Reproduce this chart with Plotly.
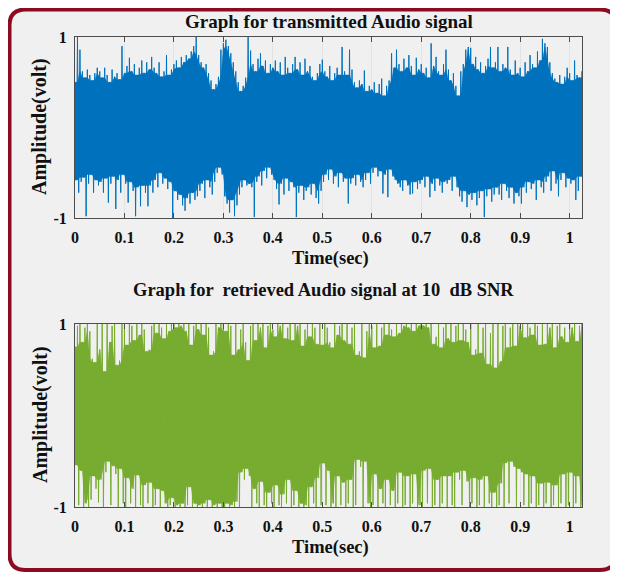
import plotly.graph_objects as go

# ---------------- data ----------------
time_step = 0.005  # s between successive envelope readings

# transmitted audio signal: positive / negative peak per 5 ms slot
tx_upper = [
    0.50, 1.00, 0.86, 0.62, 0.55, 0.64, 0.58, 0.52, 0.60, 0.66,
    0.62, 0.55, 0.66, 0.58, 0.50, 0.64, 0.56, 0.60, 0.53, 0.90,
    0.60, 0.68, 0.77, 0.62, 0.70, 0.58, 0.66, 0.74, 0.60, 0.72,
    0.64, 0.78, 0.66, 0.60, 0.72, 0.56, 0.62, 0.80, 0.58, 0.64,
    0.70, 0.74, 0.66, 0.78, 0.72, 0.80, 0.76, 0.84, 0.90, 1.00,
    0.80, 0.72, 0.66, 0.70, 0.60, 0.52, 0.42, 0.48, 0.56, 0.86,
    0.93, 0.97, 0.90, 0.82, 0.72, 0.62, 0.50, 0.40, 0.46, 0.55,
    1.00, 0.85, 0.70, 0.62, 0.76, 0.82, 0.68, 0.74, 0.60, 0.70,
    0.66, 0.74, 0.62, 0.72, 0.58, 0.78, 0.66, 0.60, 0.70, 0.78,
    0.64, 0.72, 0.58, 0.76, 0.62, 0.68, 0.56, 0.52, 0.60, 0.70,
    0.75, 0.62, 0.56, 0.68, 0.52, 0.60, 0.66, 0.58, 0.89, 0.62,
    0.58, 0.86, 0.64, 0.50, 0.44, 0.52, 0.48, 0.63, 0.40, 0.46,
    0.42, 0.50, 0.38, 0.48, 0.54, 0.35, 0.46, 0.52, 0.82, 0.66,
    0.86, 0.70, 0.62, 0.76, 0.66, 0.80, 0.68, 0.58, 0.77, 0.64,
    0.70, 0.60, 0.66, 0.55, 0.93, 0.68, 0.78, 0.62, 0.58, 0.70,
    0.86, 0.64, 0.52, 0.60, 0.46, 0.35, 0.62, 0.70, 0.86, 0.89,
    0.88, 0.70, 0.78, 0.64, 0.72, 0.60, 0.68, 0.76, 0.89, 0.66,
    0.72, 0.89, 0.62, 0.70, 0.66, 0.89, 0.64, 0.58, 0.74, 0.60,
    0.66, 0.56, 0.72, 0.62, 0.80, 0.70, 0.66, 0.84, 0.74, 0.98,
    0.93, 0.89, 0.72, 0.60, 0.54, 0.50, 0.58, 0.48, 0.56, 0.66,
    0.60, 0.52, 0.74, 0.58, 0.55, 0.62,
]
tx_lower = [
    -0.58, -0.72, -0.60, -0.55, -0.98, -0.62, -0.52, -0.72, -0.58, -0.64,
    -0.60, -0.72, -0.56, -0.83, -0.62, -0.54, -0.90, -0.58, -0.72, -0.52,
    -0.62, -0.83, -0.60, -0.70, -0.98, -0.66, -0.87, -0.64, -0.72, -0.87,
    -0.64, -0.72, -0.58, -0.66, -0.50, -0.62, -0.56, -0.68, -0.60, -1.00,
    -0.70, -0.80, -0.74, -0.86, -0.92, -0.78, -0.84, -0.72, -0.80, -0.76,
    -0.70, -0.62, -0.78, -0.58, -0.66, -0.74, -0.60, -0.50, -0.44, -0.52,
    -0.76, -0.84, -0.94, -0.80, -0.98, -0.86, -0.74, -0.66, -0.58, -0.64,
    -0.62, -0.66, -0.99, -0.60, -0.54, -0.64, -0.48, -0.56, -0.44, -0.52,
    -0.58, -0.68, -0.85, -0.62, -0.74, -0.56, -0.70, -0.60, -0.66, -0.99,
    -0.72, -0.64, -0.80, -0.70, -0.66, -0.74, -0.62, -0.78, -0.84, -0.70,
    -0.60, -0.52, -0.58, -0.46, -0.62, -0.54, -0.66, -0.50, -0.60, -0.56,
    -0.84, -0.62, -0.56, -0.64, -0.52, -0.60, -0.66, -0.58, -0.50, -0.62,
    -0.50, -0.44, -0.54, -0.48, -0.73, -0.52, -0.77, -0.46, -0.54, -0.58,
    -0.62, -0.66, -0.70, -0.58, -0.64, -0.74, -0.73, -0.60, -0.68, -0.62,
    -0.58, -0.66, -0.54, -0.77, -0.62, -0.70, -0.56, -0.64, -0.72, -0.60,
    -0.62, -0.58, -0.70, -0.54, -0.66, -0.76, -0.82, -0.70, -0.88, -0.74,
    -0.80, -0.72, -0.86, -0.78, -0.70, -0.99, -0.76, -0.68, -0.82, -0.74,
    -0.66, -0.74, -0.80, -0.62, -0.70, -0.78, -0.66, -0.84, -0.72, -0.76,
    -0.84, -0.66, -0.72, -0.60, -0.68, -0.62, -0.80, -0.58, -0.66, -0.72,
    -0.60, -0.54, -0.70, -0.48, -0.62, -0.76, -0.58, -0.50, -0.66, -0.56,
    -0.62, -0.58, -0.80, -0.70, -0.54, -0.60,
]

# retrieved audio signal at 10 dB SNR: positive / negative peak per 5 ms slot
rx_upper = [
    0.75, 0.98, 1.00, 0.80, 0.96, 1.00, 0.92, 0.62, 0.58, 1.00,
    0.72, 1.00, 0.48, 1.00, 0.80, 0.98, 1.00, 0.55, 0.60, 1.00,
    0.96, 0.77, 1.00, 0.98, 0.82, 1.00, 0.88, 1.00, 0.94, 0.70,
    0.72, 0.98, 1.00, 0.90, 1.00, 0.96, 0.84, 1.00, 0.92, 1.00,
    1.00, 0.96, 1.00, 0.98, 1.00, 0.92, 1.00, 0.77, 0.98, 1.00,
    0.94, 1.00, 0.88, 1.00, 0.96, 0.66, 0.70, 1.00, 0.96, 1.00,
    1.00, 0.92, 1.00, 0.98, 0.66, 1.00, 0.72, 0.94, 1.00, 0.80,
    0.60, 0.98, 1.00, 0.82, 1.00, 0.96, 1.00, 0.74, 0.98, 1.00,
    0.94, 0.86, 1.00, 0.98, 1.00, 0.84, 0.96, 1.00, 0.82, 1.00,
    0.98, 1.00, 0.76, 0.94, 1.00, 0.86, 1.00, 0.96, 0.78, 1.00,
    0.77, 1.00, 0.96, 0.80, 0.74, 1.00, 0.88, 0.98, 1.00, 0.82,
    1.00, 0.78, 0.96, 1.00, 0.66, 0.70, 1.00, 0.63, 0.92, 1.00,
    0.98, 0.74, 1.00, 0.76, 0.96, 1.00, 0.88, 1.00, 0.94, 0.86,
    1.00, 0.90, 1.00, 0.98, 1.00, 0.96, 1.00, 0.92, 1.00, 0.98,
    1.00, 0.98, 1.00, 0.96, 1.00, 0.78, 0.86, 1.00, 0.74, 0.96,
    1.00, 0.84, 1.00, 0.80, 0.98, 1.00, 0.82, 1.00, 0.94, 0.80,
    1.00, 0.66, 0.72, 1.00, 0.68, 0.96, 1.00, 0.56, 0.90, 1.00,
    0.52, 1.00, 0.59, 0.98, 1.00, 0.74, 0.96, 1.00, 0.76, 1.00,
    0.98, 1.00, 0.85, 1.00, 0.96, 0.88, 1.00, 0.98, 0.77, 1.00,
    0.78, 1.00, 0.96, 1.00, 0.74, 0.98, 1.00, 0.86, 0.96, 0.80,
    1.00, 0.96, 1.00, 0.81, 0.98, 1.00,
]
rx_lower = [
    -0.54, -0.98, -0.60, -1.00, -0.96, -1.00, -0.92, -0.66, -0.80, -0.95,
    -0.70, -1.00, -0.62, -0.50, -0.98, -0.55, -0.64, -1.00, -0.58, -0.96,
    -1.00, -0.68, -0.96, -0.80, -1.00, -0.65, -0.98, -1.00, -0.76, -0.96,
    -0.73, -1.00, -0.98, -0.80, -1.00, -0.82, -0.96, -1.00, -0.98, -0.90,
    -1.00, -0.98, -1.00, -0.96, -1.00, -0.98, -0.78, -1.00, -0.96, -1.00,
    -0.98, -1.00, -0.96, -1.00, -0.92, -1.00, -0.98, -1.00, -0.96, -1.00,
    -1.00, -0.96, -1.00, -0.98, -1.00, -0.94, -1.00, -0.62, -0.70, -0.58,
    -0.66, -1.00, -0.80, -0.96, -1.00, -0.72, -0.98, -1.00, -0.84, -0.96,
    -1.00, -0.76, -0.98, -1.00, -0.86, -0.96, -0.70, -1.00, -0.98, -0.82,
    -1.00, -0.96, -1.00, -0.98, -1.00, -0.78, -0.96, -1.00, -0.68, -0.98,
    -0.52, -0.98, -0.60, -1.00, -0.96, -1.00, -0.66, -0.98, -0.73, -1.00,
    -0.96, -0.70, -1.00, -0.98, -0.48, -0.56, -1.00, -0.50, -0.96, -1.00,
    -0.98, -0.64, -1.00, -0.80, -0.96, -1.00, -0.70, -0.98, -0.82, -1.00,
    -0.96, -0.62, -1.00, -0.98, -0.66, -1.00, -0.96, -0.64, -1.00, -0.98,
    -1.00, -0.60, -0.96, -0.58, -1.00, -0.98, -0.70, -1.00, -0.96, -0.66,
    -1.00, -0.66, -0.98, -1.00, -0.62, -0.70, -0.98, -0.60, -0.72, -1.00,
    -0.96, -0.68, -1.00, -0.98, -0.70, -1.00, -0.66, -0.96, -1.00, -0.84,
    -1.00, -0.98, -0.74, -1.00, -0.52, -0.96, -0.50, -0.56, -1.00, -0.58,
    -0.62, -0.98, -0.64, -1.00, -0.96, -0.66, -1.00, -0.98, -0.74, -1.00,
    -0.96, -0.73, -1.00, -0.98, -0.76, -1.00, -0.96, -0.64, -1.00, -0.98,
    -0.62, -1.00, -0.96, -0.66, -1.00, -0.98,
]

x_tick_vals = [0, 0.1, 0.2, 0.3, 0.4, 0.5, 0.6, 0.7, 0.8, 0.9, 1.0]
x_tick_text = ["0", "0.1", "0.2", "0.3", "0.4", "0.5", "0.6", "0.7", "0.8", "0.9", "1"]
y_tick_vals = [-1, 1]
y_tick_text = ["-1", "1"]

title_top = "Graph for transmitted Audio signal"
title_bottom = "Graph for  retrieved Audio signal at 10  dB SNR"
x_title = "Time(sec)"
y_title = "Amplitude(volt)"

# ---------------- figure ----------------
OFF = 8              # page body margin: figure starts 8 px into the window
W, H = 618 - OFF, 574 - OFF
FONT = "Liberation Serif"
BLUE = "#0072BD"
GREEN = "#77AC30"


def zigzag(upper, lower):
    """signal drawn as alternating positive / negative peaks"""
    xs, ys = [], []
    for i, (u, l) in enumerate(zip(upper, lower)):
        t = i * time_step
        xs += [t, t + time_step / 2]
        ys += [u, l]
    return xs, ys


def dense_core(upper, lower, k=1):
    """the densely overdrawn part of the waveform: lowest neighbouring peaks"""
    n = len(upper)
    hi = [min(upper[max(0, i - k):i + k + 1]) for i in range(n)]
    lo = [max(lower[max(0, i - k):i + k + 1]) for i in range(n)]
    xs = [i * time_step for i in range(n)]
    return xs + xs[::-1], hi + lo[::-1]


def px_x(x):  # window pixel -> paper fraction
    return (x - OFF) / W


def px_y(y):
    return 1 - (y - OFF) / H


fig = go.Figure()
for up, lo, col, xa_, ya_ in [(tx_upper, tx_lower, BLUE, "x", "y"),
                              (rx_upper, rx_lower, GREEN, "x2", "y2")]:
    cx, cy = dense_core(up, lo)
    fig.add_trace(go.Scatter(x=cx, y=cy, mode="lines", fill="toself", fillcolor=col,
                             line=dict(color=col, width=0.5),
                             xaxis=xa_, yaxis=ya_, showlegend=False, hoverinfo="skip"))
    zx, zy = zigzag(up, lo)
    fig.add_trace(go.Scatter(x=zx, y=zy, mode="lines",
                             line=dict(color=col, width=1.0, simplify=False),
                             xaxis=xa_, yaxis=ya_, showlegend=False, hoverinfo="skip"))

# plot areas in window pixels
L, R = 75, 582
T1, B1 = 37, 218
T2, B2 = 324, 507

axis_common = dict(
    showline=True, linecolor="#4d4d4d", linewidth=1, mirror="ticks",
    ticks="inside", ticklen=5, tickcolor="#4d4d4d", zeroline=False,
    tickfont=dict(family=FONT, size=16, color="#111111", weight="bold"),
    automargin=False,
)
xa = dict(axis_common, range=[0, 1.025], tickvals=x_tick_vals, ticktext=x_tick_text,
          showgrid=True, gridcolor="#e3e3e3", gridwidth=1, ticklabelstandoff=5)
ya = dict(axis_common, range=[-1, 1], tickvals=y_tick_vals, ticktext=y_tick_text,
          showgrid=False, ticklabelstandoff=4)

fig.update_layout(
    width=W, height=H, autosize=False,
    margin=dict(l=0, r=0, t=0, b=0),
    paper_bgcolor="white", plot_bgcolor="white",
    xaxis=dict(xa, domain=[px_x(L), px_x(R)], anchor="y"),
    yaxis=dict(ya, domain=[px_y(B1), px_y(T1)], anchor="x"),
    xaxis2=dict(xa, domain=[px_x(L), px_x(R)], anchor="y2"),
    yaxis2=dict(ya, domain=[px_y(B2), px_y(T2)], anchor="x2"),
)

# rounded frame (window pixels)
x0f, y0f, x1f, y1f, r = 9.5, 9.5, 616, 570, 16


def P(x, y):
    return f"{px_x(x):.5f},{px_y(y):.5f}"


path = (f"M {P(x0f + r, y0f)} L {P(x1f - r, y0f)} Q {P(x1f, y0f)} {P(x1f, y0f + r)} "
        f"L {P(x1f, y1f - r)} Q {P(x1f, y1f)} {P(x1f - r, y1f)} "
        f"L {P(x0f + r, y1f)} Q {P(x0f, y1f)} {P(x0f, y1f - r)} "
        f"L {P(x0f, y0f + r)} Q {P(x0f, y0f)} {P(x0f + r, y0f)} Z")
fig.add_shape(type="path", path=path, xref="paper", yref="paper",
              line=dict(color="#8C0B1E", width=4), fillcolor="#F0F0F0", layer="below")


def label(text, x, y, size, angle=0):
    fig.add_annotation(text=text, x=px_x(x), y=px_y(y), xref="paper", yref="paper",
                       showarrow=False, xanchor="center", yanchor="middle", textangle=angle,
                       font=dict(family=FONT, size=size, color="#111111", weight="bold"))


label(title_top, 329, 21, 19)
label(x_title, 330, 258, 18.5)
label(y_title, 40, 127, 20, -90)
label(title_bottom, 323, 290, 18.5)
label(x_title, 330, 547, 18.5)
label(y_title, 40, 415, 20, -90)

fig.write_html("out.html")
